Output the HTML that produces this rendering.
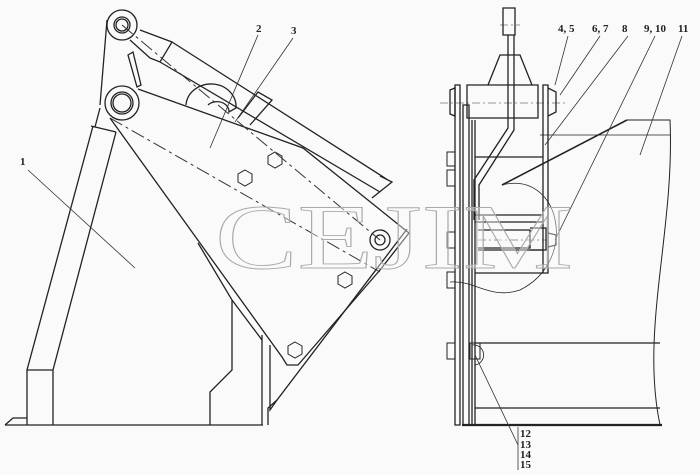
<!DOCTYPE html>
<html><head><meta charset="utf-8"><style>
html,body{margin:0;padding:0;background:#fafafa;}
svg{display:block;}
text{font-family:"Liberation Serif",serif;font-weight:bold;font-size:11px;fill:#222;}
</style></head><body>
<svg width="700" height="475" viewBox="0 0 700 475" xmlns="http://www.w3.org/2000/svg">
<rect width="700" height="475" fill="#fafafa"/>
<g fill="none" stroke="#222" stroke-width="1.3">
<!-- left drawing -->
<path d="M5,425 L263,425"/>
<path d="M5,425 L13,418 L27,418"/>
<path d="M93,126 L27,370 L27,425 M116,132 L53,370 L53,425 M27,370 L53,370 M91,126 L116,132"/>
<path d="M107,20 L100,105 M100,108 L95,127"/>
<circle cx="122" cy="25" r="15"/><circle cx="122" cy="25" r="8"/><circle cx="122" cy="25" r="6"/>
<circle cx="122" cy="103" r="17"/><circle cx="122" cy="103" r="11"/><circle cx="122" cy="103" r="9"/>
<path d="M128,55 L133,52 L141,85 L137,87 Z"/>
<!-- plate -->
<path d="M138,89 L303,148 L409,233 L380,270 L298,365 L287,365 L282,357 L110,118"/>
<path d="M407,229 L277,400 L268,408 L268,425"/>
<path d="M198,243 L232,300 L232,370 L210,392 L210,425 M232,300 L262,340"/>
<path d="M262,335 L262,425 M270,345 L270,410 L277,400"/>
<path d="M186,105 A20,18 0 0 1 236,108 L229,112 A12,10 0 0 0 208,105"/>
<!-- cylinder -->
<path d="M130,40 L150,58 M140,30 L172,42 L160,62 L150,58 M160,62 L380,192 M172,42 L388,180 M372,198 L392,182 L380,176"/>
<path d="M238,118 L258,92 L272,100 L250,125"/>
<circle cx="380" cy="240" r="10"/><circle cx="380" cy="240" r="5"/>
<g stroke-width="1">
<polygon points="275,152 282,156 282,164 275,168 268,164 268,156"/>
<polygon points="245,170 252,174 252,182 245,186 238,182 238,174"/>
<polygon points="345,272 352,276 352,284 345,288 338,284 338,276"/>
<polygon points="295,342 302,346 302,354 295,358 288,354 288,346"/>
</g>
</g>
<g fill="none" stroke="#333" stroke-width="1" stroke-dasharray="14,4,3,4">
<path d="M122,25 L380,240 M110,118 L380,272"/>
</g>
<g stroke="#333" stroke-width="0.8">
<path d="M28,170 L135,268 M258,35 L210,148 M293,38 L235,122"/>
</g>
<text x="20" y="165">1</text><text x="256" y="32">2</text><text x="291" y="34">3</text>

<!-- right drawing -->
<g fill="none" stroke="#222" stroke-width="1.3">
<path d="M503,8 L503,35 L515,35 L515,8 Z"/>
<path d="M508,35 L508,128 L474,180 L474,220 M514,35 L514,130 L479,185 L479,220"/>
<path d="M488,85 L500,55 L520,55 L532,85"/>
<path d="M467,85 L538,85 L538,118 L467,118 Z"/>
<path d="M455,85 L460,85 L460,425 L455,425 Z"/>
<path d="M463,105 L469,105 L469,425 L463,425 Z"/>
<path d="M472,120 L472,425 M475,120 L475,425"/>
<path d="M543,85 L548,85 L548,273 L543,273 Z"/>
<path d="M450,90 L455,88 L455,116 L450,114 Z M548,88 L556,92 L556,112 L548,116"/>
<path d="M475,157 L543,157 M475,215 L543,215 M475,222 L543,222 M478,250 L543,250 M475,273 L543,273"/>
<path d="M478,230 L530,230 L530,248 L478,248 M530,228 L546,228 L546,250 L530,250 M548,233 L556,235 L556,245 L548,247"/>
<path d="M462,425 L662,425" stroke-width="2.2"/>
<path d="M475,408 L660,408 M475,343 L660,343"/>
<path d="M627,120 L670,120 C675,230 640,330 660,425" stroke-width="1"/>
<path d="M540,135 L670,135" stroke-width="0.8"/>
<path d="M627,120 L502,185" stroke-width="1.6"/>
<path d="M502,185 C560,170 580,260 520,290 C490,300 475,280 450,282" stroke-width="0.8"/>
<path d="M472,345 A10,10 0 1 1 475,365" stroke-width="0.8"/>
<g stroke-width="1">
<rect x="447" y="152" width="8" height="14"/><rect x="447" y="170" width="8" height="16"/>
<rect x="447" y="232" width="8" height="16"/><rect x="447" y="272" width="8" height="16"/>
<rect x="447" y="343" width="8" height="16"/><rect x="470" y="343" width="10" height="16"/>
</g>
</g>
<g stroke="#333" stroke-width="0.6" stroke-dasharray="8,3,2,3" fill="none">
<path d="M440,103 L565,103 M478,240 L548,240 M500,25 L520,25"/>
</g>
<g stroke="#333" stroke-width="0.8">
<path d="M568,36 L555,85 M600,36 L560,95 M628,36 L545,145 M655,36 L555,240 M682,36 L640,155"/>
<path d="M475,355 L518,445 M518,427 L518,470"/>
</g>
<text x="558" y="32">4, 5</text><text x="592" y="32">6, 7</text><text x="622" y="32">8</text><text x="644" y="32">9, 10</text><text x="678" y="32">11</text>
<text x="520" y="437">12</text><text x="520" y="448">13</text><text x="520" y="458">14</text><text x="520" y="468">15</text>
<!-- watermark -->
<text x="215" y="268" textLength="358" lengthAdjust="spacingAndGlyphs" style="font-size:92px;font-weight:normal;fill:#fafafa;fill-opacity:0.4;stroke:#aaa;stroke-width:0.9">CEJIM</text>
</svg>
</body></html>
